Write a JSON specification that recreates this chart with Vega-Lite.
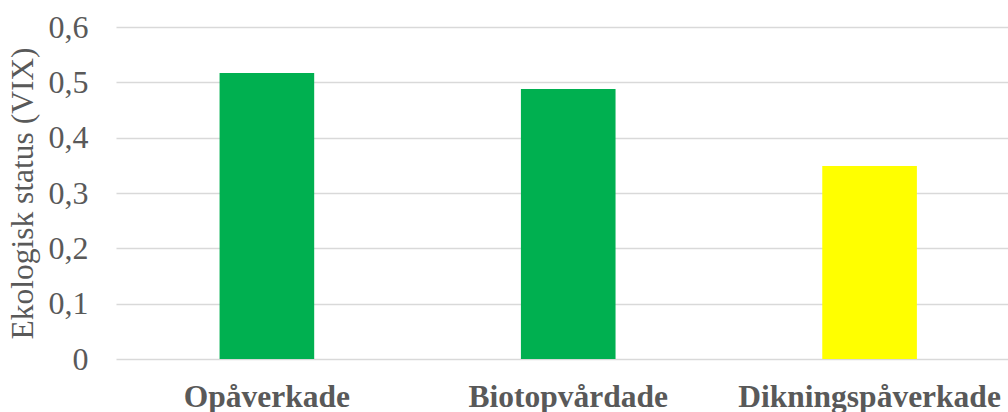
{
  "$schema": "https://vega.github.io/schema/vega-lite/v6.json",
  "width": 892,
  "height": 332,
  "autosize": {"type": "none"},
  "padding": {"left": 116, "top": 27, "right": 0, "bottom": 53},
  "background": "white",
  "config": {
    "view": {"stroke": null},
    "font": "'Liberation Serif', 'Times New Roman', serif"
  },
  "data": {
    "values": [
      {"kategori": "Opåverkade", "vix": 0.517, "farg": "#00B050"},
      {"kategori": "Biotopvårdade", "vix": 0.488, "farg": "#00B050"},
      {"kategori": "Dikningspåverkade", "vix": 0.349, "farg": "#FFFF00"}
    ]
  },
  "mark": {"type": "bar"},
  "encoding": {
    "x": {
      "field": "kategori",
      "type": "nominal",
      "sort": null,
      "scale": {"paddingInner": 0.686, "paddingOuter": 0.323, "align": 0.532},
      "axis": {
        "title": null,
        "labelAngle": 0,
        "labelFont": "'Liberation Serif', 'Times New Roman', serif",
        "labelFontWeight": "bold",
        "labelFontSize": 31.5,
        "labelColor": "#595959",
        "labelPadding": 22,
        "labelLimit": 0,
        "ticks": false,
        "domain": false,
        "grid": false
      }
    },
    "y": {
      "field": "vix",
      "type": "quantitative",
      "scale": {"domain": [0, 0.6], "nice": false},
      "axis": {
        "title": "Ekologisk status (VIX)",
        "titleFont": "'Liberation Serif', 'Times New Roman', serif",
        "titleFontWeight": "normal",
        "titleFontSize": 31.5,
        "titleColor": "#595959",
        "titlePadding": 9,
        "values": [0, 0.1, 0.2, 0.3, 0.4, 0.5, 0.6],
        "labelExpr": "datum.value == 0 ? '0' : replace(format(datum.value, '.1f'), '.', ',')",
        "labelFont": "'Liberation Serif', 'Times New Roman', serif",
        "labelFontSize": 32,
        "labelColor": "#595959",
        "labelPadding": 28,
        "labelLimit": 0,
        "ticks": false,
        "domain": false,
        "grid": true,
        "gridColor": "#D9D9D9",
        "gridWidth": 1.5
      }
    },
    "color": {"field": "farg", "type": "nominal", "scale": null, "legend": null}
  }
}
